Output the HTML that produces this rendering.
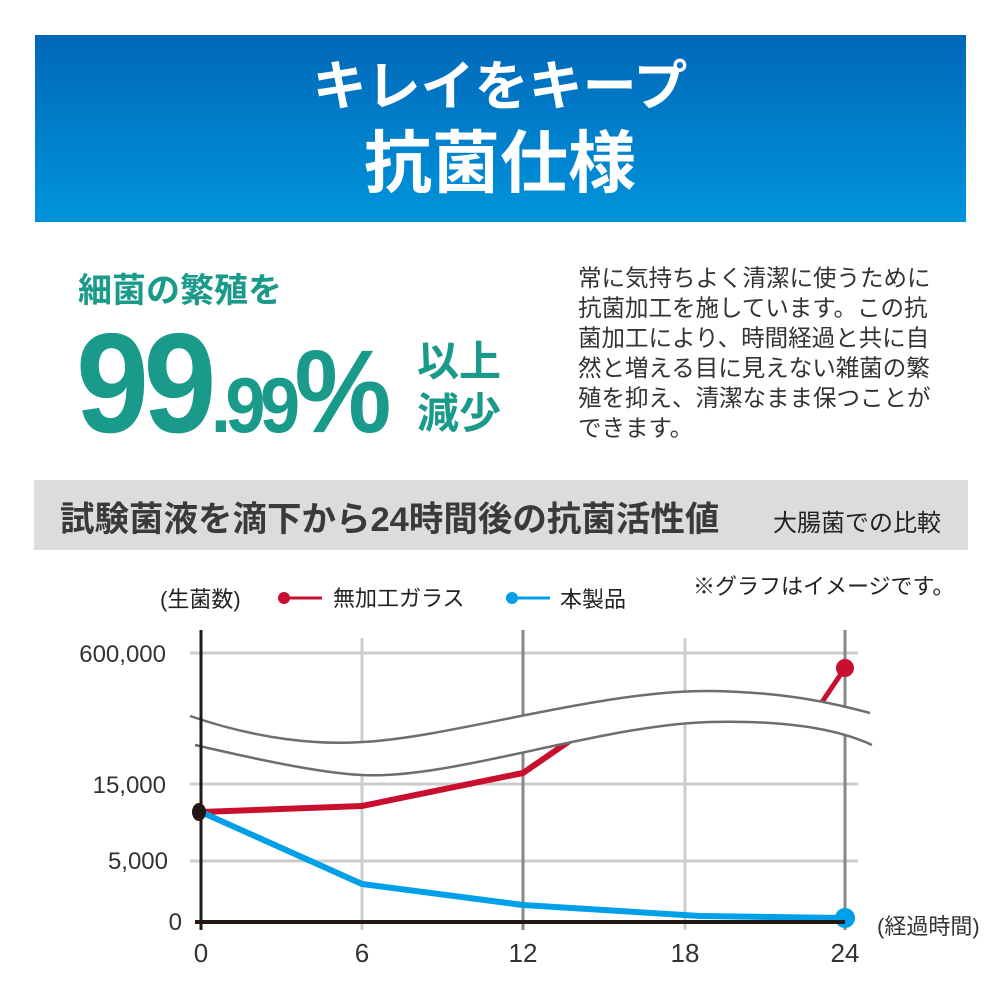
<!DOCTYPE html>
<html><head><meta charset="utf-8"><style>
body{margin:0;background:#fff}
svg{display:block}
text{font-family:"Liberation Sans","Noto Sans CJK JP",sans-serif}
</style></head><body>
<svg width="1000" height="1000" viewBox="0 0 1000 1000">
<defs><linearGradient id="g" x1="0" y1="0" x2="0" y2="1"><stop offset="0" stop-color="#0068b8"/><stop offset="1" stop-color="#0094dc"/></linearGradient></defs>
<rect width="1000" height="1000" fill="#fff"/>
<rect x="35" y="35" width="931" height="187" fill="url(#g)"/>
<text x="500" y="105" fill="#fff" font-size="54" font-weight="bold" text-anchor="middle">キレイをキープ</text>
<text x="500" y="187" fill="#fff" font-size="68" font-weight="bold" text-anchor="middle">抗菌仕様</text>
<text x="78" y="302" fill="#1a9a8a" font-size="34" font-weight="bold">細菌の繁殖を</text>
<text x="76" y="432" fill="#1a9a8a" font-size="142" font-weight="bold" letter-spacing="-6" textLength="310" lengthAdjust="spacingAndGlyphs">99<tspan font-size="78">.99</tspan><tspan font-size="118">%</tspan></text>
<text x="417" y="376" fill="#1a9a8a" font-size="42" font-weight="bold">以上</text>
<text x="417" y="428" fill="#1a9a8a" font-size="42" font-weight="bold">減少</text>
<g fill="#333" font-size="23.5">
<text x="578" y="286">常に気持ちよく清潔に使うために</text>
<text x="578" y="316">抗菌加工を施しています。この抗</text>
<text x="578" y="346">菌加工により、時間経過と共に自</text>
<text x="578" y="376">然と増える目に見えない雑菌の繁</text>
<text x="578" y="406">殖を抑え、清潔なまま保つことが</text>
<text x="578" y="436">できます。</text>
</g>
<rect x="34" y="480" width="934" height="70" fill="#dcdcdc"/>
<text x="60" y="531" fill="#3a3a3a" font-size="34.5" font-weight="bold">試験菌液を滴下から24時間後の抗菌活性値</text>
<text x="773" y="531" fill="#222" font-size="24">大腸菌での比較</text>
<g font-size="22" fill="#222">
<text x="160" y="607">(生菌数)</text>
<text x="333" y="606">無加工ガラス</text>
<text x="560" y="607">本製品</text>
<text x="693" y="594">※グラフはイメージです。</text>
</g>
<line x1="284" y1="598" x2="322" y2="598" stroke="#c8102e" stroke-width="3"/><circle cx="284" cy="598" r="6" fill="#c8102e"/>
<line x1="512" y1="598" x2="550" y2="598" stroke="#00a0e9" stroke-width="3"/><circle cx="512" cy="598" r="6" fill="#00a0e9"/>
<g stroke="#ccc" stroke-width="3">
<line x1="190" y1="653" x2="858" y2="653"/><line x1="190" y1="784" x2="858" y2="784"/><line x1="190" y1="861" x2="858" y2="861"/>
<line x1="362" y1="638" x2="362" y2="930"/><line x1="685" y1="638" x2="685" y2="930"/>
</g>
<g stroke="#888" stroke-width="3"><line x1="523" y1="630" x2="523" y2="930"/><line x1="845" y1="630" x2="845" y2="930"/></g>
<polyline points="201,812 362,806 523,773 600,720" fill="none" stroke="#c8102e" stroke-width="6"/>
<polyline points="820,705 845,668" fill="none" stroke="#c8102e" stroke-width="5"/>
<circle cx="845" cy="668" r="9" fill="#c8102e"/>
<path d="M190,716 C260,740 320,745 362,742 C450,738 600,690 710,691 C790,692 840,705 870,713 L872,745 C840,730 790,720 710,722 C600,725 450,780 362,775 C320,773 260,760 195,745 Z" fill="#fff"/>
<path d="M190,716 C260,740 320,745 362,742 C450,738 600,690 710,691 C790,692 840,705 870,713" fill="none" stroke="#6e6e6e" stroke-width="2.5"/>
<path d="M195,745 C260,760 320,773 362,775 C450,780 600,725 710,722 C790,720 840,730 872,745" fill="none" stroke="#6e6e6e" stroke-width="2.5"/>
<polyline points="201,812 362,884 523,905 700,916 845,918" fill="none" stroke="#00a0e9" stroke-width="6" stroke-linejoin="round"/>
<circle cx="845" cy="918" r="10" fill="#00a0e9"/>
<line x1="201" y1="630" x2="201" y2="930" stroke="#231815" stroke-width="3"/>
<line x1="195" y1="922" x2="845" y2="922" stroke="#231815" stroke-width="4"/>
<ellipse cx="199" cy="812" rx="7" ry="9" fill="#231815"/>
<g font-size="24" fill="#333" text-anchor="end">
<text x="166" y="662">600,000</text><text x="166" y="793">15,000</text><text x="168" y="869">5,000</text><text x="182" y="930">0</text>
</g>
<g font-size="26" fill="#333" text-anchor="middle">
<text x="201" y="962">0</text><text x="362" y="962">6</text><text x="523" y="962">12</text><text x="685" y="962">18</text><text x="845" y="962">24</text>
</g>
<text x="877" y="934" font-size="22" fill="#333">(経過時間)</text>
</svg>
</body></html>
